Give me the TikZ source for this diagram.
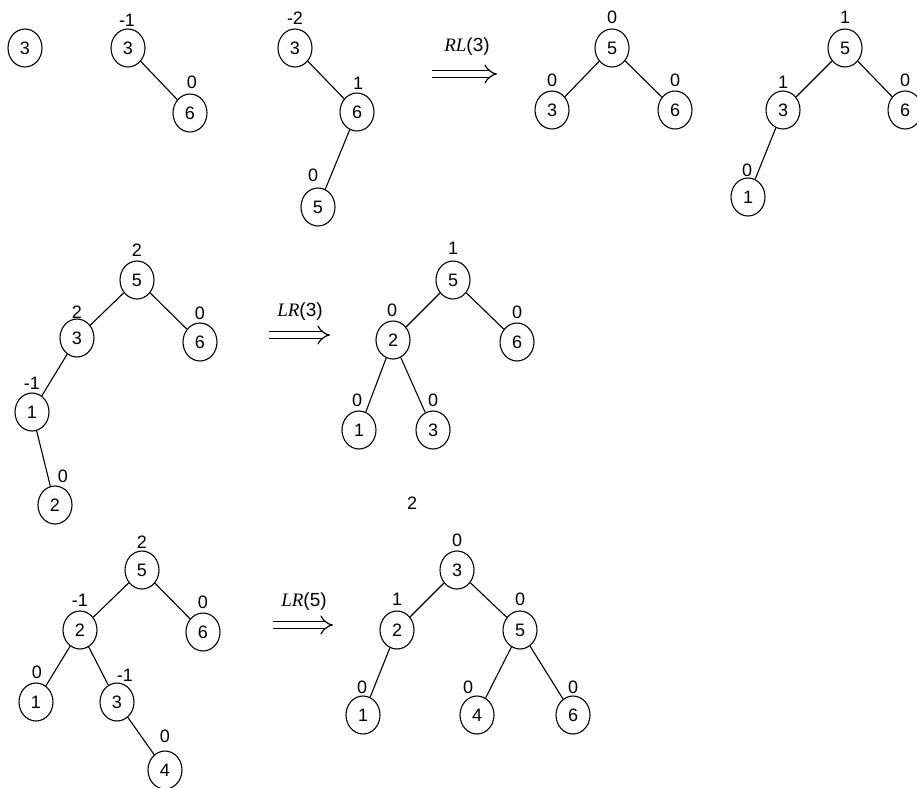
\documentclass[tikz,border=0pt]{standalone}
\usepackage{fontspec}
\setmainfont{Liberation Sans}
\newfontfamily\opfont{Liberation Serif}
\usetikzlibrary{shapes.geometric,arrows.meta}

\begin{document}
\begin{tikzpicture}[x=1pt,y=-1pt,
  key/.style={ellipse,draw,line width=1.1pt,minimum width=34pt,minimum height=38pt,
              inner sep=0pt,font=\fontsize{18}{18}\selectfont},
  bal/.style={inner sep=0pt,font=\fontsize{18}{18}\selectfont},
  edge/.style={line width=1.1pt},
  rot/.style={double,double distance=5.5pt,line width=1.2pt,-{Implies}},
  oplabel/.style={inner sep=0pt,font=\fontsize{19}{19}\selectfont}]
\useasboundingbox (0,0) rectangle (917,787);

% ---- row 1: inserting 3, 6, 5, then 1 ----
\node[key] (a3) at (25,48) {3};

\node[key] (b3) at (128,48) {3};   \node[bal] (b3b) at (127,20) {-1};
\node[key] (b6) at (190,113) {6};  \node[bal] (b6b) at (192,82) {0};
\draw[edge] (b3) -- (b6);

\node[key] (c3) at (295,48) {3};   \node[bal] (c3b) at (295,18) {-2};
\node[key] (c6) at (357,112) {6};  \node[bal] (c6b) at (358,83) {1};
\node[key] (c5) at (318,207) {5};  \node[bal] (c5b) at (313,175) {0};
\draw[edge] (c3) -- (c6);
\draw[edge] (c6) -- (c5);

\coordinate (rlS) at (432,74);
\coordinate (rlE) at (497,74);
\draw[rot] (rlS) -- (rlE);
\node[oplabel] (rl) at (467,47) {{\opfont\itshape RL}(3)};

\node[key] (d5) at (612,48) {5};   \node[bal] (d5b) at (612,17) {0};
\node[key] (d3) at (552,110) {3};  \node[bal] (d3b) at (552,80) {0};
\node[key] (d6) at (675,110) {6};  \node[bal] (d6b) at (675,80) {0};
\draw[edge] (d5) -- (d3);
\draw[edge] (d5) -- (d6);

\node[key] (e5) at (845,48) {5};   \node[bal] (e5b) at (845,17) {1};
\node[key] (e3) at (783,110) {3};  \node[bal] (e3b) at (783,82) {1};
\node[key] (e6) at (905,110) {6};  \node[bal] (e6b) at (905,80) {0};
\node[key] (e1) at (748,197) {1};  \node[bal] (e1b) at (747,170) {0};
\draw[edge] (e5) -- (e3);
\draw[edge] (e5) -- (e6);
\draw[edge] (e3) -- (e1);

% ---- row 2: inserting 2 ----
\node[key] (f5) at (137,280) {5};  \node[bal] (f5b) at (137,250) {2};
\node[key] (f3) at (77,338) {3};   \node[bal] (f3b) at (77,312) {2};
\node[key] (f6) at (200,342) {6};  \node[bal] (f6b) at (200,313) {0};
\node[key] (f1) at (32,412) {1};   \node[bal] (f1b) at (32,383) {-1};
\node[key] (f2) at (55,505) {2};   \node[bal] (f2b) at (63,476) {0};
\draw[edge] (f5) -- (f3);
\draw[edge] (f5) -- (f6);
\draw[edge] (f3) -- (f1);
\draw[edge] (f1) -- (f2);

\coordinate (lr3S) at (269,335);
\coordinate (lr3E) at (330,335);
\draw[rot] (lr3S) -- (lr3E);
\node[oplabel] (lr3) at (300,312) {{\opfont\itshape LR}(3)};

\node[key] (g5) at (453,280) {5};  \node[bal] (g5b) at (453,248) {1};
\node[key] (g2) at (393,340) {2};  \node[bal] (g2b) at (392,310) {0};
\node[key] (g6) at (517,342) {6};  \node[bal] (g6b) at (517,312) {0};
\node[key] (g1) at (359,430) {1};  \node[bal] (g1b) at (357,400) {0};
\node[key] (g3) at (433,430) {3};  \node[bal] (g3b) at (433,400) {0};
\draw[edge] (g5) -- (g2);
\draw[edge] (g5) -- (g6);
\draw[edge] (g2) -- (g1);
\draw[edge] (g2) -- (g3);

\node[bal] (note) at (412,503) {2};

% ---- row 3: inserting 4 ----
\node[key] (h5) at (142,570) {5};  \node[bal] (h5b) at (142,542) {2};
\node[key] (h2) at (80,630) {2};   \node[bal] (h2b) at (80,600) {-1};
\node[key] (h6) at (203,632) {6};  \node[bal] (h6b) at (203,602) {0};
\node[key] (h1) at (36,702) {1};   \node[bal] (h1b) at (37,672) {0};
\node[key] (h3) at (117,702) {3};  \node[bal] (h3b) at (125,675) {-1};
\node[key] (h4) at (165,770) {4};  \node[bal] (h4b) at (165,736) {0};
\draw[edge] (h5) -- (h2);
\draw[edge] (h5) -- (h6);
\draw[edge] (h2) -- (h1);
\draw[edge] (h2) -- (h3);
\draw[edge] (h3) -- (h4);

\coordinate (lr5S) at (273,625);
\coordinate (lr5E) at (333,625);
\draw[rot] (lr5S) -- (lr5E);
\node[oplabel] (lr5) at (304,602) {{\opfont\itshape LR}(5)};

\node[key] (i3) at (457,570) {3};  \node[bal] (i3b) at (457,540) {0};
\node[key] (i2) at (397,630) {2};  \node[bal] (i2b) at (397,599) {1};
\node[key] (i5) at (520,630) {5};  \node[bal] (i5b) at (520,599) {0};
\node[key] (i1) at (363,715) {1};  \node[bal] (i1b) at (362,687) {0};
\node[key] (i4) at (477,715) {4};  \node[bal] (i4b) at (468,687) {0};
\node[key] (i6) at (573,715) {6};  \node[bal] (i6b) at (573,687) {0};
\draw[edge] (i3) -- (i2);
\draw[edge] (i3) -- (i5);
\draw[edge] (i2) -- (i1);
\draw[edge] (i5) -- (i4);
\draw[edge] (i5) -- (i6);
\end{tikzpicture}
\end{document}
